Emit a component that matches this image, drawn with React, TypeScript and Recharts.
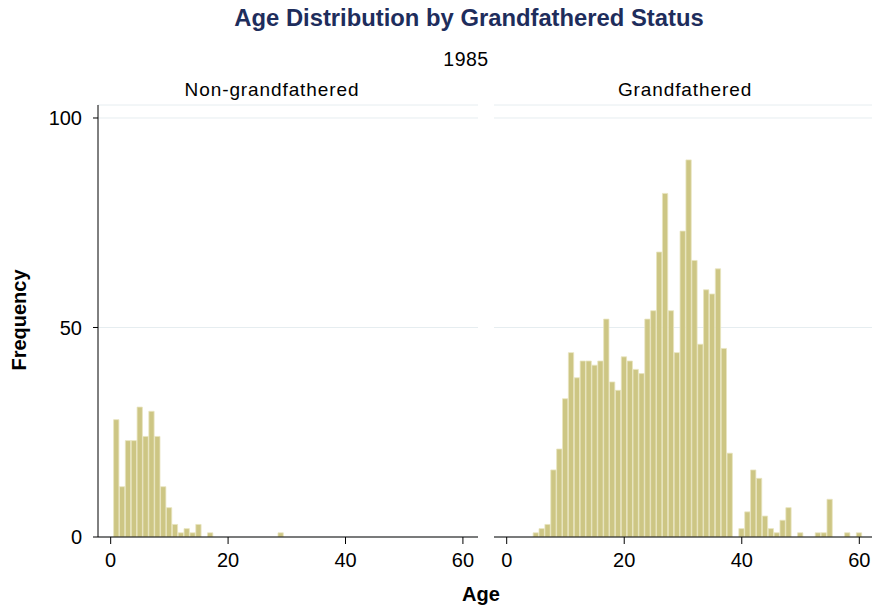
import React from 'react';
import { BarChart, Bar, XAxis, YAxis, CartesianGrid } from 'recharts';

const ages = Array.from({ length: 61 }, (_, i) => i);

const nonGrandfathered = [
  0, 28, 12, 23, 23, 31, 24, 30, 24, 12, 7, 3, 1, 2, 1, 3, 0, 1, 0, 0,
  0, 0, 0, 0, 0, 0, 0, 0, 0, 1, 0, 0, 0, 0, 0, 0, 0, 0, 0, 0,
  0, 0, 0, 0, 0, 0, 0, 0, 0, 0, 0, 0, 0, 0, 0, 0, 0, 0, 0, 0, 0,
];

const grandfathered = [
  0, 0, 0, 0, 0, 1, 2, 3, 16, 21, 33, 44, 38, 42, 42, 41, 42, 52, 37, 35,
  43, 42, 40, 39, 52, 54, 68, 82, 54, 44, 73, 90, 66, 46, 59, 58, 64, 45, 20, 0,
  2, 6, 16, 14, 5, 2, 1, 4, 7, 0, 1, 0, 0, 1, 1, 9, 0, 0, 1, 0, 1,
];

const xTicks = [0, 20, 40, 60];
const yTicks = [0, 50, 100];

const FONT = '"Liberation Sans", Arial, Helvetica, sans-serif';
const BAR_FILL = '#cdc684';
const BAR_STROKE = '#e9e5bf';
const GRID = '#e6edf0';

const toRows = (counts: number[]) =>
  ages.map((age, i) => ({ age, count: counts[i] })).filter((d) => d.count > 0);

const leftRows = toRows(nonGrandfathered);
const rightRows = toRows(grandfathered);

const TOP = 105;
const BASE = 537;
const H = 607;
const X_AXIS_H = 30;

const tickStyle = { fontSize: 20, fill: '#000', fontFamily: FONT };

interface PanelProps {
  rows: { age: number; count: number }[];
  left: number;
  width: number;
  plotLeft: number;
  xDomain: [number, number];
  showY: boolean;
}

const Panel: React.FC<PanelProps> = ({ rows, left, width, plotLeft, xDomain, showY }) => {
  const yAxisW = showY ? 60 : 0;
  const plotW = width - plotLeft;
  const barSize = plotW / (xDomain[1] - xDomain[0]);
  return (
    <div style={{ position: 'absolute', left, top: 0 }}>
      <BarChart
        width={width}
        height={H}
        data={rows}
        barCategoryGap={0}
        margin={{ top: TOP, right: 0, bottom: H - BASE - X_AXIS_H, left: plotLeft - yAxisW }}
      >
        <CartesianGrid vertical={false} stroke={GRID} strokeWidth={1} />
        <XAxis
          type="number"
          dataKey="age"
          domain={xDomain}
          allowDataOverflow
          ticks={xTicks}
          interval={0}
          height={X_AXIS_H}
          tickSize={7}
          tickMargin={9}
          tick={tickStyle}
          stroke="#000"
          axisLine={{ stroke: '#000', strokeWidth: 1 }}
          tickLine={{ stroke: '#000', strokeWidth: 1 }}
        />
        <YAxis
          type="number"
          domain={[0, 103.1]}
          allowDataOverflow
          ticks={yTicks}
          interval={0}
          hide={!showY}
          width={yAxisW}
          tickSize={5}
          tickMargin={11}
          tick={tickStyle}
          axisLine={{ stroke: '#000', strokeWidth: 1 }}
          tickLine={{ stroke: '#000', strokeWidth: 1 }}
        />
        <Bar
          dataKey="count"
          fill={BAR_FILL}
          stroke={BAR_STROKE}
          strokeWidth={0.8}
          barSize={barSize}
          isAnimationActive={false}
        />
      </BarChart>
    </div>
  );
};

const textBase: React.CSSProperties = {
  position: 'absolute',
  fontFamily: FONT,
  color: '#000',
  whiteSpace: 'nowrap',
  transform: 'translateX(-50%)',
};

export default function App() {
  return (
    <div
      style={{
        position: 'absolute',
        left: 0,
        top: 0,
        width: 872,
        height: 607,
        background: '#fff',
        overflow: 'hidden',
        fontFamily: FONT,
      }}
    >
      <Panel rows={leftRows} left={0} width={478} plotLeft={98} xDomain={[-2.16, 62.57]} showY />
      <Panel rows={rightRows} left={480} width={392} plotLeft={14} xDomain={[-2.16, 62.16]} showY={false} />

      <div
        style={{
          ...textBase,
          left: 469,
          top: 6,
          fontSize: 23.8,
          lineHeight: '24px',
          fontWeight: 'bold',
          color: '#1e2d5c',
        }}
      >
        Age Distribution by Grandfathered Status
      </div>
      <div style={{ ...textBase, left: 466, top: 50, fontSize: 19.5, lineHeight: '19px', letterSpacing: 0.5 }}>
        1985
      </div>
      <div style={{ ...textBase, left: 272, top: 80, fontSize: 19, lineHeight: '19px', letterSpacing: 0.9 }}>
        Non-grandfathered
      </div>
      <div style={{ ...textBase, left: 685, top: 80, fontSize: 19, lineHeight: '19px', letterSpacing: 0.9 }}>
        Grandfathered
      </div>
      <div
        style={{
          position: 'absolute',
          left: 19,
          top: 320,
          fontFamily: FONT,
          fontSize: 20,
          lineHeight: '20px',
          fontWeight: 'bold',
          whiteSpace: 'nowrap',
          transform: 'translate(-50%, -50%) rotate(-90deg)',
        }}
      >
        Frequency
      </div>
      <div style={{ ...textBase, left: 481, top: 584, fontSize: 20, lineHeight: '20px', fontWeight: 'bold' }}>
        Age
      </div>
    </div>
  );
}
